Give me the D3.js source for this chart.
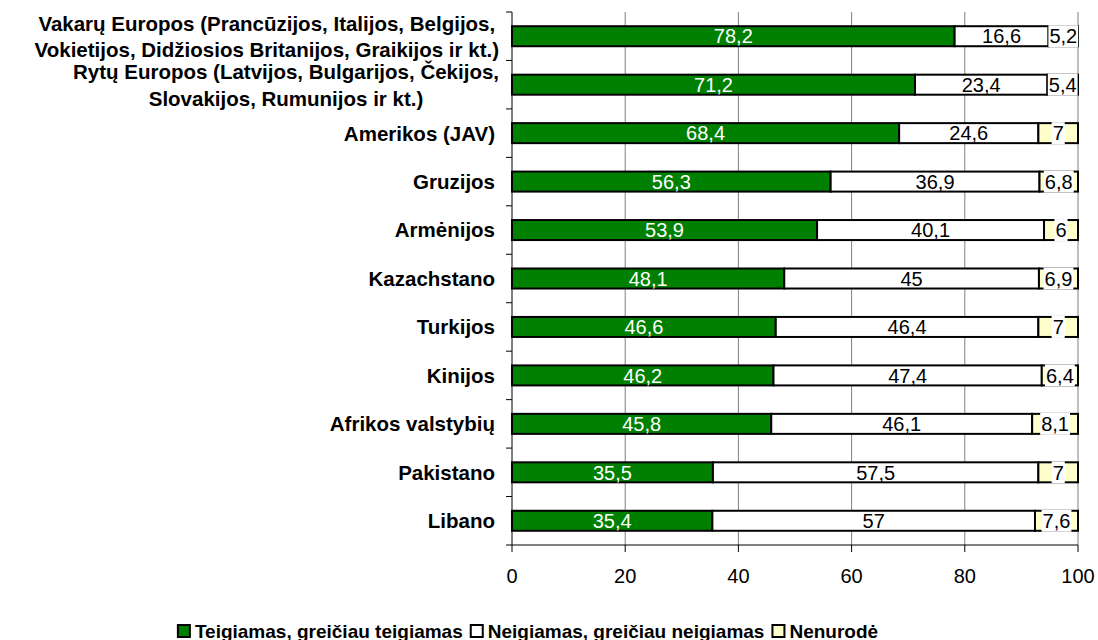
<!DOCTYPE html>
<html>
<head>
<meta charset="utf-8">
<style>
body { margin: 0; background: #fff; }
svg { font-family: "Liberation Sans", Arial, sans-serif; }
</style>
</head>
<body>
<svg width="1098" height="640"></svg>
<script src="https://d3js.org/d3.v7.min.js"></script>
<script>

// category labels (lines), top to bottom
var categories = [
  ["Vakarų Europos (Prancūzijos, Italijos, Belgijos,", "Vokietijos, Didžiosios Britanijos, Graikijos ir kt.)"],
  ["Rytų Europos (Latvijos, Bulgarijos, Čekijos,", "Slovakijos, Rumunijos ir kt.)"],
  ["Amerikos (JAV)"],
  ["Gruzijos"],
  ["Armėnijos"],
  ["Kazachstano"],
  ["Turkijos"],
  ["Kinijos"],
  ["Afrikos valstybių"],
  ["Pakistano"],
  ["Libano"]
];
var teigiamas = [78.2, 71.2, 68.4, 56.3, 53.9, 48.1, 46.6, 46.2, 45.8, 35.5, 35.4];
var neigiamas = [16.6, 23.4, 24.6, 36.9, 40.1, 45, 46.4, 47.4, 46.1, 57.5, 57];
var nenurode  = [5.2, 5.4, 7, 6.8, 6, 6.9, 7, 6.4, 8.1, 7, 7.6];
var seriesNames = ["Teigiamas, greičiau teigiamas", "Neigiamas, greičiau neigiamas", "Nenurodė"];
var seriesColors = ["#008000", "#ffffff", "#ffffcc"];
var ticks = [0, 20, 40, 60, 80, 100];

var svg = d3.select("svg");
var plotL = 512, plotR = 1078, plotT = 12, plotB = 545;

var x = d3.scaleLinear().domain([0, 100]).range([plotL, plotR]);
var y = d3.scaleBand().domain(d3.range(categories.length)).range([plotT, plotB]).paddingInner(0.587).paddingOuter(0.2935);

var fmt = function(v) { return String(v).replace(".", ","); };

// gridlines
svg.append("g").selectAll("line")
  .data(ticks.slice(1))
  .enter().append("line")
  .attr("x1", function(d) { return x(d); })
  .attr("x2", function(d) { return x(d); })
  .attr("y1", plotT).attr("y2", plotB)
  .attr("stroke", "#808080").attr("stroke-width", 1);

// stacked data
var rows = categories.map(function(c, i) {
  var vals = [teigiamas[i], neigiamas[i], nenurode[i]];
  var acc = 0;
  return vals.map(function(v, k) {
    var seg = { i: i, k: k, v: v, x0: acc, x1: acc + v };
    acc += v;
    return seg;
  });
});
var segs = [].concat.apply([], rows);

var bars = svg.append("g");
bars.selectAll("rect")
  .data(segs)
  .enter().append("rect")
  .attr("x", function(d) { return x(d.x0); })
  .attr("y", function(d) { return y(d.i); })
  .attr("width", function(d) { return x(d.x1) - x(d.x0); })
  .attr("height", y.bandwidth())
  .attr("fill", function(d) { return seriesColors[d.k]; })
  .attr("stroke", "#000").attr("stroke-width", 2);

// value labels
var lab = svg.append("g").attr("font-size", "20px");
segs.forEach(function(d) {
  var cx = (x(d.x0) + x(d.x1)) / 2;
  var cy = y(d.i) + y.bandwidth() / 2;
  var g = lab.append("g");
  var t = g.append("text")
    .attr("x", cx).attr("y", cy).attr("dy", "0.36em")
    .attr("text-anchor", "middle")
    .attr("fill", d.k === 0 ? "#fff" : "#000")
    .text(fmt(d.v));
  if (d.k === 2) {
    var w = t.node().getComputedTextLength();
    g.insert("rect", "text")
      .attr("x", cx - w / 2 - 1).attr("y", y(d.i) - 1)
      .attr("width", w + 2).attr("height", y.bandwidth() + 2)
      .attr("fill", "#fff");
  }
});

// axes
svg.append("line").attr("x1", plotL).attr("x2", plotL).attr("y1", plotT).attr("y2", plotB).attr("stroke", "#000");
svg.append("line").attr("x1", plotL - 6).attr("x2", plotR).attr("y1", plotB).attr("y2", plotB).attr("stroke", "#000");
svg.append("g").selectAll("line")
  .data(d3.range(categories.length))
  .enter().append("line")
  .attr("x1", plotL - 6).attr("x2", plotL)
  .attr("y1", function(d) { return plotT + d * y.step(); })
  .attr("y2", function(d) { return plotT + d * y.step(); })
  .attr("stroke", "#000");
svg.append("g").selectAll("line")
  .data(ticks)
  .enter().append("line")
  .attr("x1", function(d) { return x(d); }).attr("x2", function(d) { return x(d); })
  .attr("y1", plotB).attr("y2", plotB + 7)
  .attr("stroke", "#000");
svg.append("g").attr("font-size", "20px").selectAll("text")
  .data(ticks)
  .enter().append("text")
  .attr("x", function(d) { return x(d); })
  .attr("y", 583)
  .attr("text-anchor", "middle")
  .text(function(d) { return d; });

// category labels
var catG = svg.append("g").attr("font-size", "20.5px").attr("font-weight", "bold");
categories.forEach(function(lines, i) {
  var cy = y(i) + y.bandwidth() / 2;
  if (lines.length === 1) {
    catG.append("text").attr("x", 495).attr("y", cy).attr("dy", "0.36em")
      .attr("text-anchor", "end").text(lines[0]);
  } else {
    var gap = i === 0 ? 13 : 13.5;
    var ts = lines.map(function(l, j) {
      return catG.append("text").attr("y", cy + (j === 0 ? -gap : gap)).attr("dy", "0.36em")
        .attr("text-anchor", "middle").text(l);
    });
    var maxW = d3.max(ts, function(t) { return t.node().getComputedTextLength(); });
    ts.forEach(function(t) { t.attr("x", 499 - maxW / 2); });
  }
});

// legend
var leg = svg.append("g").attr("font-size", "19px").attr("font-weight", "bold");
var lx = 0;
seriesNames.forEach(function(n, k) {
  leg.append("rect").attr("x", lx).attr("y", 625).attr("width", 12).attr("height", 12)
    .attr("fill", seriesColors[k]).attr("stroke", "#000").attr("stroke-width", 2);
  var t = leg.append("text").attr("x", lx + 17).attr("y", 638).text(n);
  lx += 17 + t.node().getComputedTextLength() + (k < 2 ? 8 : 0);
});
leg.attr("transform", "translate(" + (528 - lx / 2) + ",0)");

</script>
</body>
</html>
